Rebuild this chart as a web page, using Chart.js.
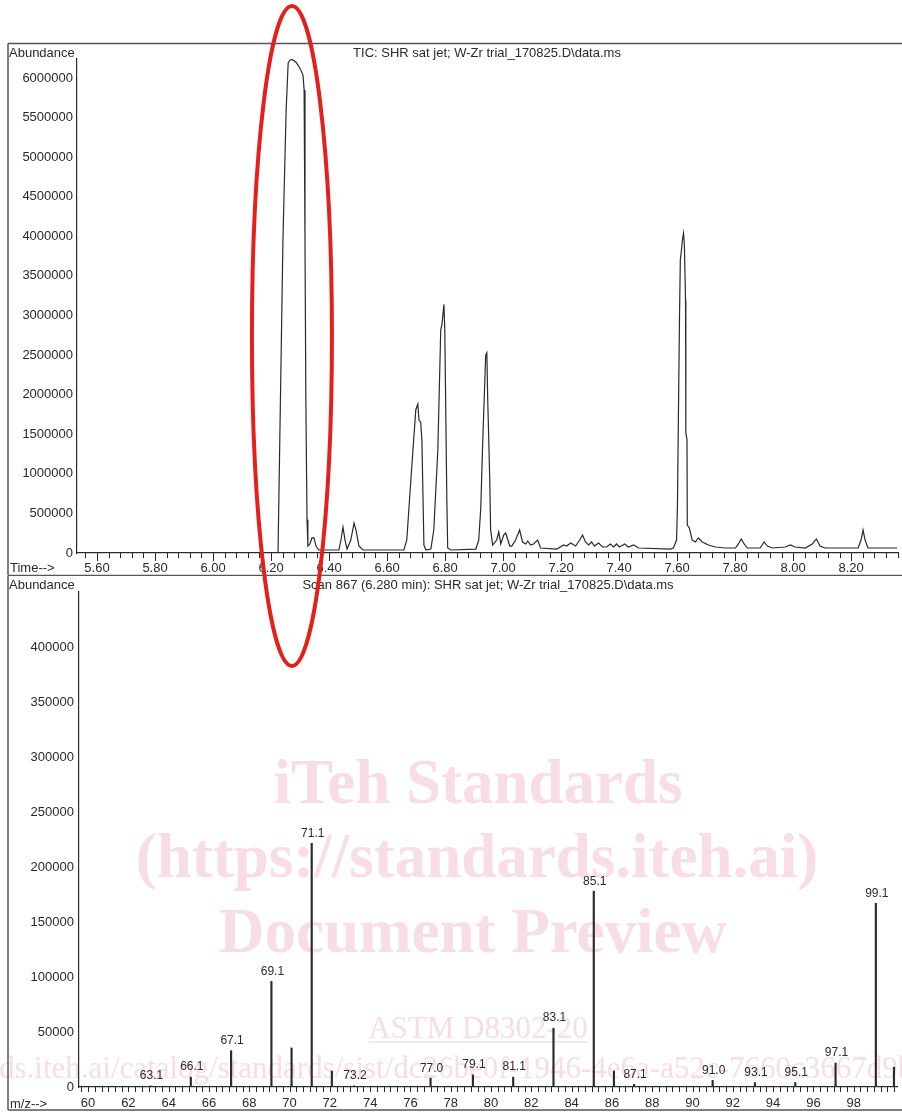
<!DOCTYPE html>
<html>
<head>
<meta charset="utf-8">
<script src="https://cdn.jsdelivr.net/npm/chart.js@4.4.1/dist/chart.umd.min.js"></script>
<style>
  body { margin: 0; background: #fff; }
  #wrap { position: relative; width: 902px; height: 1112px; overflow: hidden; }
  canvas { position: absolute; left: 0; }
</style>
</head>
<body>
<div id="wrap">
  <canvas id="mark" width="902" height="1112" style="top:0"></canvas>
  <canvas id="tic" width="902" height="576" style="top:0"></canvas>
  <canvas id="spec" width="902" height="536" style="top:576px"></canvas>
  <canvas id="ink" width="902" height="1112" style="top:0"></canvas>
</div>
<script>
// TIC trace (time in min, abundance)
const ticTime = [
  6.224, 6.241, 6.252, 6.259, 6.265, 6.272, 6.286, 6.300, 6.310, 6.314, 6.317, 6.320, 6.324, 6.327,
  6.334, 6.341, 6.348, 6.355, 6.365, 6.434, 6.441, 6.448, 6.455, 6.462, 6.475, 6.486, 6.493, 6.503,
  6.517, 6.658, 6.668, 6.682, 6.699, 6.706, 6.710, 6.716, 6.720, 6.727, 6.734, 6.751, 6.761, 6.775,
  6.785, 6.789, 6.796, 6.799, 6.806, 6.809, 6.820, 6.906, 6.916, 6.923, 6.930, 6.940, 6.944, 6.947,
  6.950, 6.954, 6.957, 6.964, 6.978, 6.985, 6.992, 7.002, 7.009, 7.023, 7.030, 7.043, 7.057, 7.067,
  7.078, 7.085, 7.095, 7.105, 7.119, 7.129, 7.185, 7.209, 7.219, 7.233, 7.250, 7.264, 7.274, 7.284,
  7.295, 7.305, 7.315, 7.329, 7.343, 7.357, 7.370, 7.381, 7.391, 7.401, 7.419, 7.432, 7.450, 7.467,
  7.577, 7.587, 7.598, 7.601, 7.605, 7.608, 7.611, 7.615, 7.618, 7.622, 7.625, 7.629, 7.630, 7.634,
  7.635, 7.642, 7.652, 7.663, 7.673, 7.687, 7.708, 7.732, 7.766, 7.801, 7.811, 7.821, 7.831, 7.842,
  7.886, 7.900, 7.911, 7.928, 7.973, 7.990, 8.007, 8.042, 8.066, 8.080, 8.093, 8.110, 8.224, 8.234,
  8.241, 8.248, 8.258, 8.358
];
const ticAbund = [
  0, 3950000, 5590000, 6190000, 6225000, 6235000, 6200000, 6120000, 6040000, 5850000, 3950000, 1930000, 420000, 88000,
  114000, 190000, 190000, 88000, 38000, 38000, 164000, 328000, 164000, 50000, 164000, 379000, 290000, 88000,
  38000, 38000, 164000, 922000, 1810000, 1880000, 1680000, 1650000, 1430000, 101000, 38000, 50000, 290000, 1300000,
  2820000, 2880000, 3140000, 2820000, 669000, 63000, 38000, 50000, 164000, 568000, 1430000, 2500000, 2530000, 1930000,
  1520000, 922000, 290000, 101000, 164000, 265000, 114000, 227000, 253000, 88000, 88000, 164000, 290000, 139000,
  114000, 152000, 101000, 114000, 164000, 63000, 50000, 101000, 88000, 126000, 88000, 164000, 227000, 139000,
  101000, 139000, 88000, 126000, 76000, 76000, 114000, 76000, 114000, 76000, 114000, 76000, 101000, 63000,
  50000, 63000, 164000, 581000, 1930000, 2940000, 3700000, 3830000, 3950000, 4040000, 3890000, 3190000, 1520000, 1430000,
  354000, 316000, 164000, 139000, 190000, 139000, 101000, 76000, 63000, 63000, 114000, 177000, 114000, 63000,
  63000, 139000, 88000, 63000, 76000, 101000, 76000, 63000, 114000, 177000, 88000, 63000, 63000, 164000,
  290000, 164000, 63000, 63000
];
const timeTicks = [5.6, 5.8, 6.0, 6.2, 6.4, 6.6, 6.8, 7.0, 7.2, 7.4, 7.6, 7.8, 8.0, 8.2];
const abundTicks = [0, 500000, 1000000, 1500000, 2000000, 2500000, 3000000, 3500000, 4000000, 4500000, 5000000, 5500000, 6000000];

// mass spectrum of scan 867
const ionMass = [63.1, 65.1, 67.1, 69.1, 70.1, 71.1, 72.1, 73.2, 77.0, 79.1, 81.1, 83.1, 85.1, 86.1, 87.1, 91.0, 93.1, 95.1, 97.1, 99.1, 100.0];
const ionAbund = [1000, 9000, 33000, 96000, 35500, 221500, 14500, 1000, 8000, 11000, 9000, 53500, 178000, 14500, 2500, 6000, 4000, 4000, 21800, 167000, 18000];
const ionLabel = ['63.1', '66.1', '67.1', '69.1', '', '71.1', '', '73.2', '77.0', '79.1', '81.1', '83.1', '85.1', '', '87.1', '91.0', '93.1', '95.1', '97.1', '99.1', ''];
const massTicks = [60, 62, 64, 66, 68, 70, 72, 74, 76, 78, 80, 82, 84, 86, 88, 90, 92, 94, 96, 98];
const ionTicks = [0, 50000, 100000, 150000, 200000, 250000, 300000, 350000, 400000];

const ink = '#2a2a2a';
const txtFont = '13px "Liberation Sans", Arial, sans-serif';

// frame, titles and tick marks for each panel
const panelDeco = {
  id: 'panelDeco',
  afterDraw(chart, args, o) {
    const ctx = chart.ctx, xs = chart.scales.x, a = chart.chartArea;
    ctx.save();
    ctx.strokeStyle = ink;
    ctx.lineWidth = 1;
    const n = Math.round((o.tickTo - o.tickFrom) / o.tickStep);
    for (let i = 0; i <= n; i++) {
      const v = o.tickFrom + i * o.tickStep;
      const r = v / o.majorStep;
      const major = Math.abs(r - Math.round(r)) < 1e-6;
      const px = Math.round(xs.getPixelForValue(v)) + 0.5;
      ctx.beginPath();
      ctx.moveTo(px, a.bottom - 1);
      ctx.lineTo(px, a.bottom + (major ? 8 : 5));
      ctx.stroke();
    }
    // frame
    ctx.strokeStyle = '#555';
    ctx.lineWidth = 1.5;
    ctx.beginPath();
    if (o.frameTop != null) { ctx.moveTo(8, o.frameTop); ctx.lineTo(902, o.frameTop); }
    ctx.moveTo(8, o.frameTop != null ? o.frameTop : 0);
    ctx.lineTo(8, o.frameBottom);
    ctx.moveTo(8, o.frameBottom);
    ctx.lineTo(902, o.frameBottom);
    ctx.stroke();
    // texts
    ctx.fillStyle = ink;
    ctx.font = txtFont;
    ctx.textBaseline = 'middle';
    ctx.textAlign = 'left';
    ctx.fillText('Abundance', 9, o.headY);
    ctx.fillText(o.axisName, 10, o.axisNameY);
    ctx.textAlign = 'center';
    ctx.fillText(o.title, (a.left + a.right) / 2, o.headY);
    ctx.restore();
  }
};

// peak labels above bars
const peakLabels = {
  id: 'peakLabels',
  afterDatasetsDraw(chart) {
    const ctx = chart.ctx;
    const meta = chart.getDatasetMeta(0);
    ctx.save();
    ctx.fillStyle = ink;
    ctx.font = '12px "Liberation Sans", Arial, sans-serif';
    ctx.textAlign = 'center';
    ctx.textBaseline = 'middle';
    meta.data.forEach((bar, i) => {
      if (ionLabel[i]) ctx.fillText(ionLabel[i], bar.x + 1, bar.y - 10);
    });
    ctx.restore();
  }
};

const axisFont = { family: '"Liberation Sans", Arial, sans-serif', size: 13 };

const ticChart = new Chart(document.getElementById('tic'), {
  type: 'line',
  data: {
    datasets: [{
      data: ticTime.map((t, i) => ({ x: t, y: ticAbund[i] })),
      borderColor: ink, borderWidth: 1.2, pointRadius: 0, tension: 0, fill: false
    }]
  },
  options: {
    responsive: false, animation: false, devicePixelRatio: 1,
    layout: { padding: { left: 0, right: 5, top: 59, bottom: 0 } },
    plugins: {
      legend: { display: false }, tooltip: { enabled: false },
      panelDeco: {
        tickFrom: 5.56, tickTo: 8.36, tickStep: 0.04, majorStep: 0.2,
        frameTop: 43.5, frameBottom: 575.5, headY: 53, axisNameY: 568,
        axisName: 'Time-->', title: 'TIC: SHR sat jet; W-Zr trial_170825.D\\data.ms'
      }
    },
    scales: {
      x: {
        type: 'linear', min: 5.531, max: 8.358,
        afterFit(s) { s.height = 23; },
        afterBuildTicks(s) { s.ticks = timeTicks.map(v => ({ value: v })); },
        grid: { display: false, drawTicks: false },
        border: { display: true, color: ink, width: 1.2 },
        ticks: { padding: 8, color: ink, font: axisFont, maxRotation: 0, autoSkip: false, callback: v => v.toFixed(2) }
      },
      y: {
        min: 0, max: 6240000,
        afterFit(s) { s.width = 77; },
        afterBuildTicks(s) { s.ticks = abundTicks.map(v => ({ value: v })); },
        grid: { display: false, drawTicks: false },
        border: { display: true, color: ink, width: 1.2 },
        ticks: { padding: 4, color: ink, font: axisFont, callback: v => String(v) }
      }
    }
  },
  plugins: [panelDeco]
});

new Chart(document.getElementById('spec'), {
  type: 'bar',
  data: {
    datasets: [{
      data: ionMass.map((m, i) => ({ x: m, y: ionAbund[i] })),
      backgroundColor: ink, borderWidth: 0, barThickness: 1.5
    }]
  },
  options: {
    responsive: false, animation: false, devicePixelRatio: 1,
    layout: { padding: { left: 0, right: 5, top: 16, bottom: 0 } },
    plugins: {
      legend: { display: false }, tooltip: { enabled: false },
      panelDeco: {
        tickFrom: 59.667, tickTo: 100, tickStep: 1 / 3, majorStep: 2,
        frameTop: null, frameBottom: 534, headY: 9, axisNameY: 528,
        axisName: 'm/z-->', title: 'Scan 867 (6.280 min): SHR sat jet; W-Zr trial_170825.D\\data.ms'
      }
    },
    scales: {
      x: {
        type: 'linear', min: 59.55, max: 100.15, offset: false,
        afterFit(s) { s.height = 25; },
        afterBuildTicks(s) { s.ticks = massTicks.map(v => ({ value: v })); },
        grid: { display: false, drawTicks: false, offset: false },
        border: { display: true, color: ink, width: 1.2 },
        ticks: { padding: 9, color: ink, font: axisFont, maxRotation: 0, autoSkip: false, callback: v => String(v) }
      },
      y: {
        min: 0, max: 450000,
        afterFit(s) { s.width = 79; },
        afterBuildTicks(s) { s.ticks = ionTicks.map(v => ({ value: v })); },
        grid: { display: false, drawTicks: false },
        border: { display: true, color: ink, width: 1.2 },
        ticks: { padding: 5, color: ink, font: axisFont, callback: v => String(v) }
      }
    }
  },
  plugins: [panelDeco, peakLabels]
});

// watermark behind the charts
(function () {
  const ctx = document.getElementById('mark').getContext('2d');
  ctx.fillStyle = '#f9dde4';
  ctx.strokeStyle = '#f9dde4';
  ctx.textAlign = 'center';
  ctx.textBaseline = 'alphabetic';
  ctx.font = 'bold 63px "Liberation Serif", serif';
  ctx.fillText('iTeh Standards', 478, 803);
  ctx.fillText('(https://standards.iteh.ai)', 477, 877);
  ctx.fillText('Document Preview', 473, 952);
  ctx.font = '31px "Liberation Serif", serif';
  ctx.fillText('ASTM D8302-20', 478, 1038);
  const w = ctx.measureText('ASTM D8302-20').width;
  ctx.lineWidth = 1.5;
  ctx.beginPath();
  ctx.moveTo(478 - w / 2, 1042);
  ctx.lineTo(478 + w / 2, 1042);
  ctx.stroke();
  ctx.textAlign = 'left';
  ctx.fillText('ds.iteh.ai/catalog/standards/sist/dc26be0f-1946-4e6a-a52c-7660c3667d9b', -1, 1078);
})();

// red ellipse round the main peak
(function () {
  const ctx = document.getElementById('ink').getContext('2d');
  let k = 0;
  ticAbund.forEach((v, i) => { if (v > ticAbund[k]) k = i; });
  const cx = ticChart.scales.x.getPixelForValue(ticTime[k]);
  ctx.strokeStyle = '#e3201b';
  ctx.lineWidth = 4;
  ctx.beginPath();
  ctx.ellipse(cx, 336, 40, 330, 0, 0, Math.PI * 2);
  ctx.stroke();
})();
</script>
</body>
</html>
